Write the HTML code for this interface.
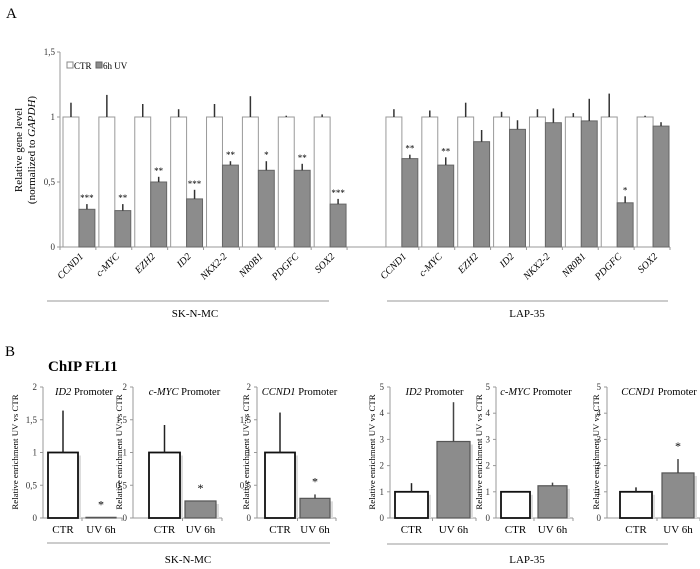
<!DOCTYPE html>
<html><head><meta charset="utf-8"><style>
html,body{margin:0;padding:0;background:#fff;}
svg{display:block;font-family:"Liberation Serif",serif;}
</style></head><body>
<svg id="fig" width="700" height="569" viewBox="0 0 700 569" xmlns="http://www.w3.org/2000/svg">
<text x="6" y="18" font-size="15">A</text>
<text x="5" y="356" font-size="15">B</text>
<text x="48" y="371" font-size="15" font-weight="bold">ChIP FLI1</text>
<g id="pa"></g>
<g id="pb"></g>
</svg>
<script>
const genes = ["CCND1","c-MYC","EZH2","ID2","NKX2-2","NR0B1","PDGFC","SOX2"];
const skCtrErr = [0.11,0.17,0.10,0.06,0.10,0.16,0.01,0.02];
const skUv = [0.29,0.28,0.50,0.37,0.63,0.59,0.59,0.33];
const skUvErr = [0.04,0.05,0.04,0.07,0.03,0.07,0.05,0.04];
const skSig = ["***","**","**","***","**","*","**","***"];
const lapCtrErr = [0.06,0.05,0.11,0.04,0.06,0.03,0.18,0.01];
const lapUv = [0.68,0.63,0.81,0.905,0.956,0.97,0.34,0.93];
const lapUvErr = [0.03,0.06,0.09,0.07,0.11,0.17,0.05,0.03];
const lapSig = ["**","**","","","","","*",""];
const yTicksA = [0,0.5,1,1.5];
const yTickLabelsA = ["0","0,5","1","1,5"];

const chipTitles = ["ID2","c-MYC","CCND1","ID2","c-MYC","CCND1"];
const chipCtr = [1,1,1,1,1,1];
const chipCtrErr = [0.64,0.42,0.61,0.33,0,0.17];
const chipUv = [0.01,0.26,0.30,2.92,1.23,1.72];
const chipUvErr = [0,0,0.06,1.50,0.12,0.53];
const chipSig = ["*","*","*","","","*"];
const chipMax = [2,2,2,5,5,5];
const yTicksSK = [0,0.5,1,1.5,2];
const yTickLabelsSK = ["0","0,5","1","1,5","2"];
const yTicksLAP = [0,1,2,3,4,5];
const yTickLabelsLAP = ["0","1","2","3","4","5"];

const NS="http://www.w3.org/2000/svg";
function mk(parent,tag,attrs,text){const e=document.createElementNS(NS,tag);for(const k in attrs)e.setAttribute(k,attrs[k]);if(text!==undefined)e.textContent=text;parent.appendChild(e);return e;}

// ---------- Panel A ----------
const pa=document.getElementById('pa');
const ax0=60, axEnd=670, y0=247, yTop=52, ymax=1.5;
const slot=(axEnd-ax0)/17;
const yA=v=>y0-(v/ymax)*(y0-yTop);
let e;
e=mk(pa,'line',{x1:ax0,y1:yTop,x2:ax0,y2:y0,stroke:'#999','stroke-width':1});


yTicksA.forEach((t,i)=>{
  mk(pa,'line',{x1:ax0-3,y1:yA(t),x2:ax0,y2:yA(t),stroke:'#999'});
  e=mk(pa,'text',{x:ax0-5,y:yA(t)+3,'font-size':9,'text-anchor':'end',fill:'#333'},yTickLabelsA[i]);
  
  
});
e=mk(pa,'line',{x1:ax0,y1:y0,x2:axEnd,y2:y0,stroke:'#999'});


for(let i=0;i<=17;i++){ if(i==9) continue; mk(pa,'line',{x1:ax0+i*slot,y1:y0,x2:ax0+i*slot,y2:y0+3,stroke:'#999'}); }
e=mk(pa,'text',{transform:'translate(22,150) rotate(-90)','font-size':11,'text-anchor':'middle'},'Relative gene level');


e=mk(pa,'text',{transform:'translate(35,150) rotate(-90)','font-size':11,'text-anchor':'middle'});
e.innerHTML='(normalized to <tspan font-style="italic">GAPDH</tspan>)';


mk(pa,'rect',{x:67,y:62,width:6,height:6,fill:'#fff',stroke:'#888'});
e=mk(pa,'text',{x:74,y:69,'font-size':9},'CTR');


mk(pa,'rect',{x:96,y:62,width:6,height:6,fill:'#8c8c8c',stroke:'#666'});
e=mk(pa,'text',{x:103,y:69,'font-size':9},'6h UV');



function drawGroup(startSlot,ctrErr,uv,uvErr,sig,prefix){
  genes.forEach((g,i)=>{
    const sx=ax0+(startSlot+i)*slot;
    const bw=(slot-4)/2;
    const cx=sx+3, ux=sx+3+bw;
    let r=mk(pa,'rect',{x:cx,y:yA(1),width:bw,height:y0-yA(1),fill:'#fff',stroke:'#999','stroke-width':1});
    
    
    if(ctrErr[i]>0) mk(pa,'line',{x1:cx+bw/2,y1:yA(1),x2:cx+bw/2,y2:yA(1+ctrErr[i]),stroke:'#333','stroke-width':1.5});
    r=mk(pa,'rect',{x:ux,y:yA(uv[i]),width:bw,height:y0-yA(uv[i]),fill:'#8c8c8c',stroke:'#666','stroke-width':1});
    
    
    mk(pa,'line',{x1:ux+bw/2,y1:yA(uv[i]),x2:ux+bw/2,y2:yA(uv[i]+uvErr[i]),stroke:'#333','stroke-width':1.5});
    if(sig[i]){ r=mk(pa,'text',{x:ux+bw/2,y:yA(uv[i]+uvErr[i])-3,'font-size':9,'text-anchor':'middle'},sig[i]);
      
      }
    r=mk(pa,'text',{transform:`translate(${sx+slot/2+6},257) rotate(-45)`,'font-size':10,'font-style':'italic','text-anchor':'end'},g);
    
    
  });
}
drawGroup(0,skCtrErr,skUv,skUvErr,skSig,'sk');
drawGroup(9,lapCtrErr,lapUv,lapUvErr,lapSig,'lap');
mk(pa,'line',{x1:47,y1:301,x2:329,y2:301,stroke:'#999'});
e=mk(pa,'text',{x:195,y:317,'font-size':11,'text-anchor':'middle'},'SK-N-MC');


mk(pa,'line',{x1:387,y1:301,x2:668,y2:301,stroke:'#999'});
e=mk(pa,'text',{x:527,y:317,'font-size':11,'text-anchor':'middle'},'LAP-35');



// ---------- Panel B ----------
const pb=document.getElementById('pb');
const axX=[43,133,257,390,496,607];
const titleX=[18,122,249,375,482,599];
const ctrX=[48,149,265,395,501,620];
const uvX=[86,185,300,437,538,662];
const bwB=[30,31,30,33,29,32];
const by0=518, byTop=387;
for(let c=0;c<6;c++){
  const g=mk(pb,'g',{});
  
  
  const yB=v=>by0-(v/chipMax[c])*(by0-byTop);
  const ticks=c<3?yTicksSK:yTicksLAP, tl=c<3?yTickLabelsSK:yTickLabelsLAP;
  mk(g,'line',{x1:axX[c],y1:byTop,x2:axX[c],y2:by0,stroke:'#999'});
  ticks.forEach((t,i)=>{
    mk(g,'line',{x1:axX[c]-3,y1:yB(t),x2:axX[c],y2:yB(t),stroke:'#999'});
    mk(g,'text',{x:axX[c]-6,y:yB(t)+3,'font-size':9,'text-anchor':'end',fill:'#333'},tl[i]);
  });
  const xe=uvX[c]+bwB[c]+6;
  mk(g,'line',{x1:axX[c],y1:by0,x2:xe,y2:by0,stroke:'#999'});
  mk(g,'line',{x1:xe,y1:by0,x2:xe,y2:by0+3,stroke:'#999'});
  mk(g,'line',{x1:(ctrX[c]+bwB[c]+uvX[c])/2,y1:by0,x2:(ctrX[c]+bwB[c]+uvX[c])/2,y2:by0+3,stroke:'#999'});
  const yl=mk(g,'text',{transform:`translate(${titleX[c]},452) rotate(-90)`,'font-size':8.8,'text-anchor':'middle'},'Relative enrichment UV vs CTR');
  
  
  const tt=mk(g,'text',{x:(ctrX[c]+uvX[c]+bwB[c])/2+2,y:395,'font-size':10.5,'text-anchor':'middle'});
  tt.innerHTML=`<tspan font-style="italic">${chipTitles[c]}</tspan> Promoter`;
  
  
  mk(g,'rect',{x:ctrX[c]+3,y:yB(chipCtr[c])+3,width:bwB[c],height:by0-yB(chipCtr[c])-3,fill:'#ddd'});
  mk(g,'rect',{x:uvX[c]+3,y:yB(chipUv[c])+3,width:bwB[c],height:Math.max(0,by0-yB(chipUv[c])-3),fill:'#ddd'});
  let r=mk(g,'rect',{x:ctrX[c],y:yB(chipCtr[c]),width:bwB[c],height:by0-yB(chipCtr[c]),fill:'#fff',stroke:'#111','stroke-width':1.8});
  
  
  if(chipCtrErr[c]>0) mk(g,'line',{x1:ctrX[c]+bwB[c]/2,y1:yB(chipCtr[c]),x2:ctrX[c]+bwB[c]/2,y2:yB(chipCtr[c]+chipCtrErr[c]),stroke:'#222','stroke-width':1.5});
  r=mk(g,'rect',{x:uvX[c],y:yB(chipUv[c]),width:bwB[c],height:by0-yB(chipUv[c]),fill:'#8c8c8c',stroke:'#555','stroke-width':1.2});
  
  
  if(chipUvErr[c]>0) mk(g,'line',{x1:uvX[c]+bwB[c]/2,y1:yB(chipUv[c]),x2:uvX[c]+bwB[c]/2,y2:yB(chipUv[c]+chipUvErr[c]),stroke:'#444','stroke-width':1.5});
  if(chipSig[c]){ r=mk(g,'text',{x:uvX[c]+bwB[c]/2,y:yB(chipUv[c]+chipUvErr[c])-9,'font-size':12,'text-anchor':'middle'},chipSig[c]);
    
    }
  mk(g,'text',{x:ctrX[c]+bwB[c]/2,y:533,'font-size':11,'text-anchor':'middle'},'CTR');
  mk(g,'text',{x:uvX[c]+bwB[c]/2,y:533,'font-size':11,'text-anchor':'middle'},'UV 6h');
}
mk(pb,'line',{x1:47,y1:543,x2:330,y2:543,stroke:'#999'});
e=mk(pb,'text',{x:188,y:563,'font-size':11,'text-anchor':'middle'},'SK-N-MC');


mk(pb,'line',{x1:387,y1:544,x2:668,y2:544,stroke:'#999'});
e=mk(pb,'text',{x:527,y:563,'font-size':11,'text-anchor':'middle'},'LAP-35');


</script>
</body></html>
